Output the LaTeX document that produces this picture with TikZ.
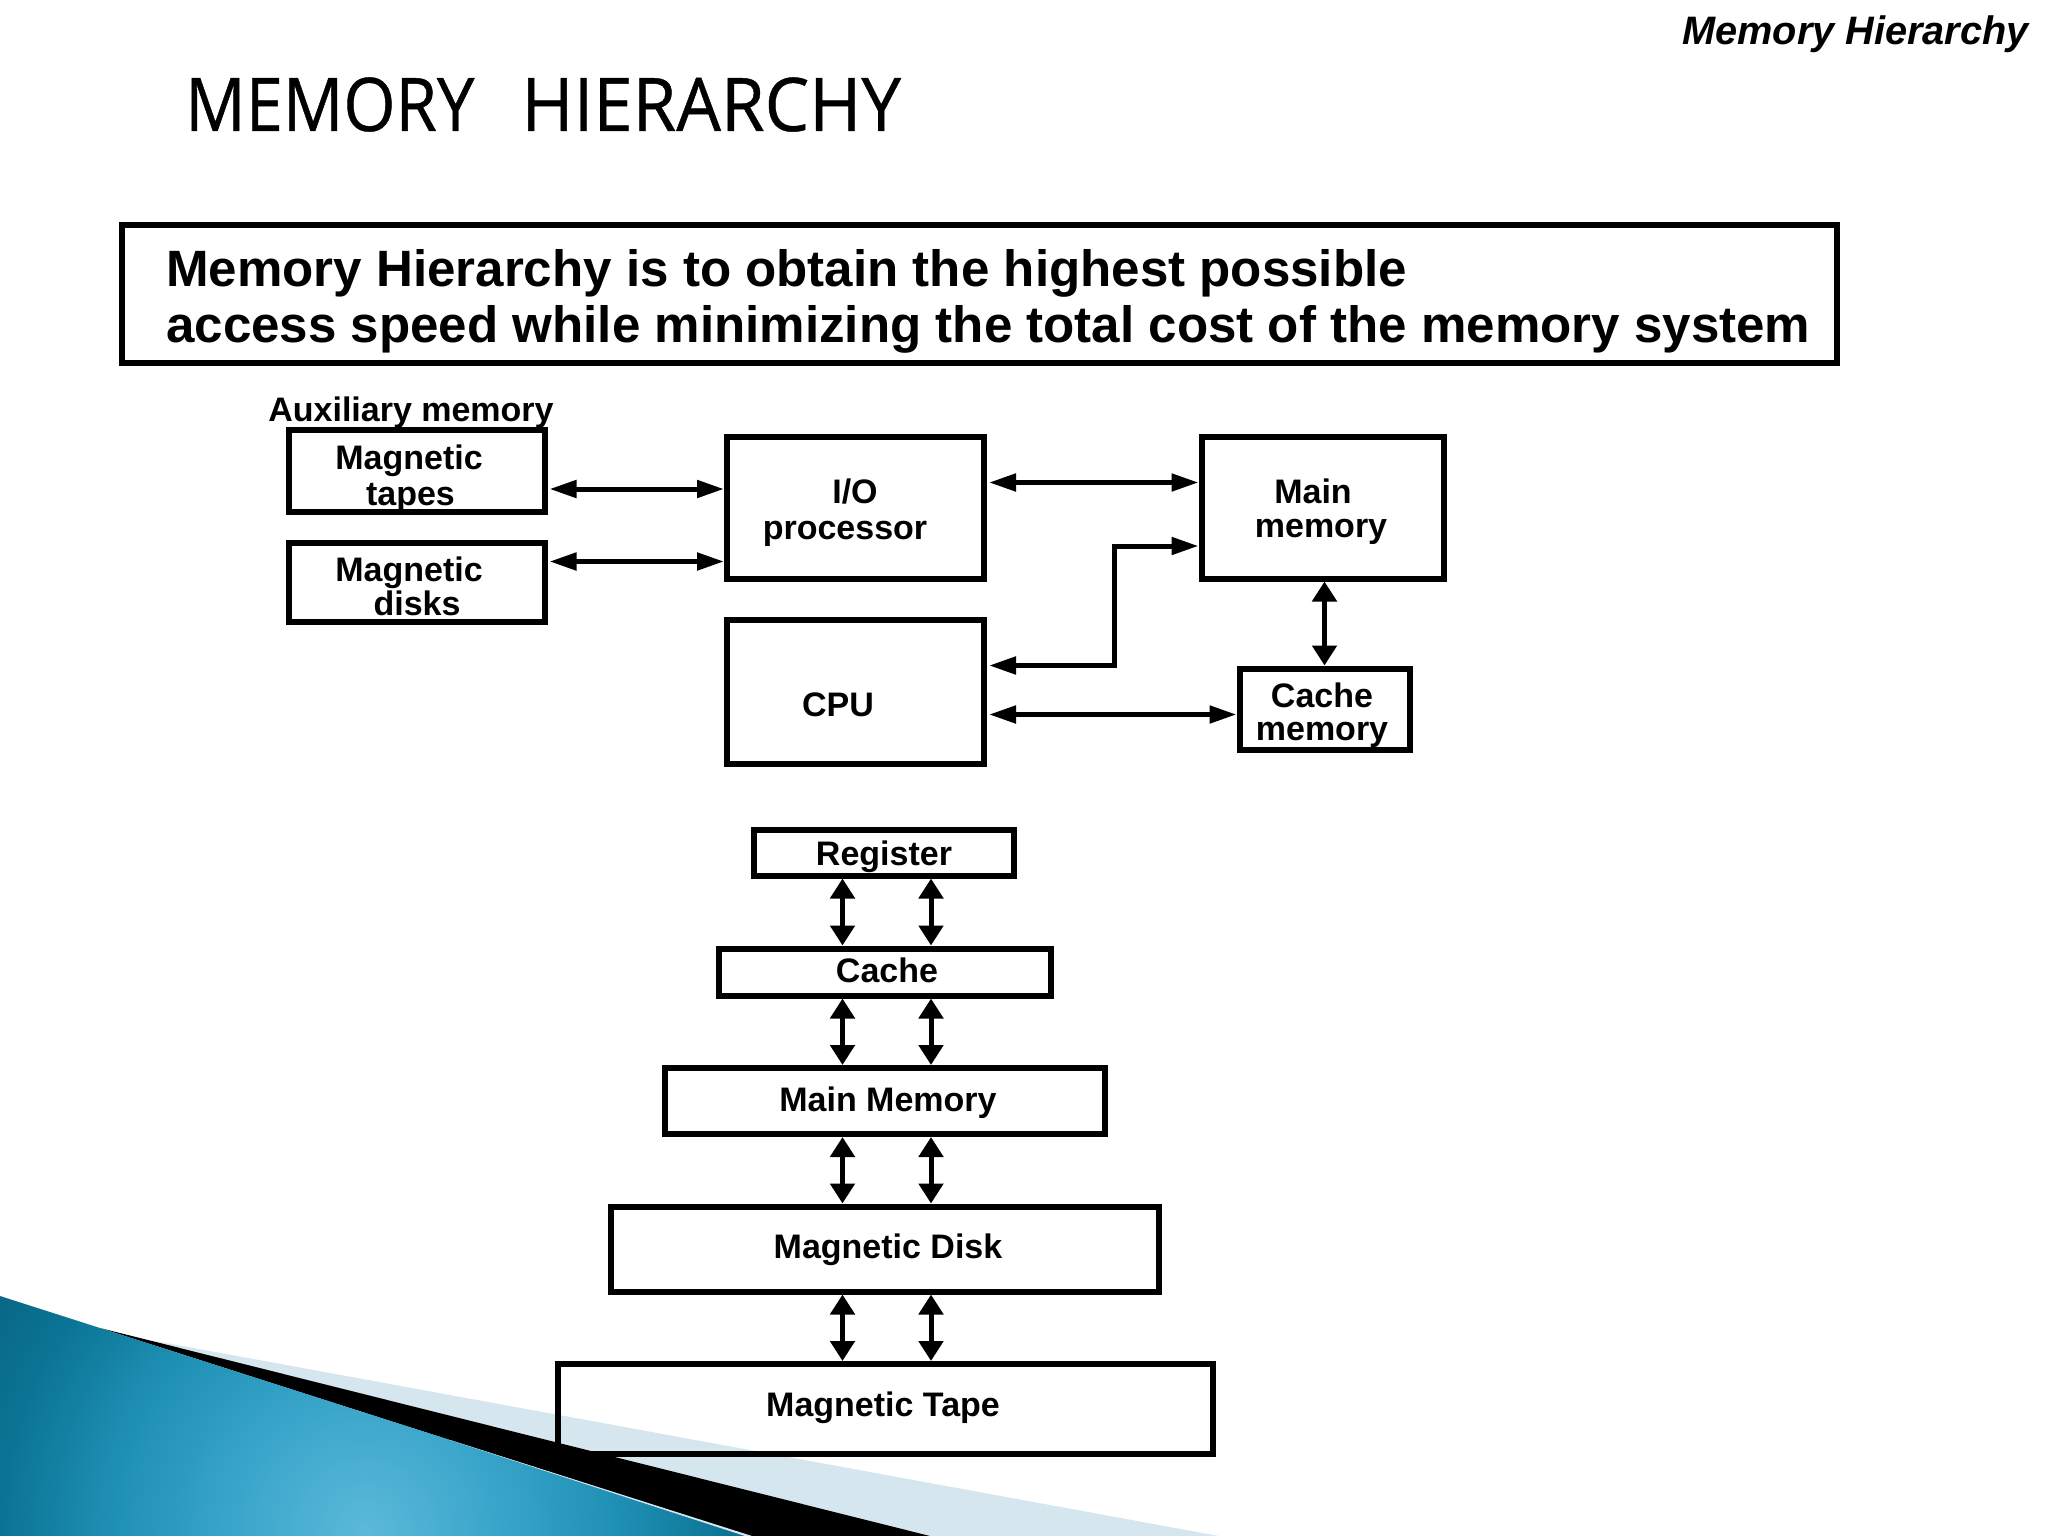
\documentclass[tikz,border=0pt]{standalone}
\usepackage{fontspec}
\setmainfont{Liberation Sans}
\newfontfamily\titleleft[FakeStretch=0.905,FakeBold=0.6]{Open Sans}
\newfontfamily\titleright[FakeStretch=0.955,FakeBold=0.6]{Open Sans}
\usetikzlibrary{arrows.meta,positioning,calc}
\definecolor{bandblue}{HTML}{D6E6EF}
\definecolor{tealdark}{HTML}{08607F}
\definecolor{tealedge}{HTML}{0B7595}
\definecolor{tealmid}{HTML}{1F90B5}
\definecolor{tealsoft}{HTML}{3BA6CB}
\definecolor{teallight}{HTML}{5BB9D9}
\pgfdeclareradialshading{cornerglow}{\pgfpointorigin}{color(0bp)=(teallight); color(7bp)=(tealsoft); color(14bp)=(tealmid); color(20bp)=(tealedge); color(26bp)=(tealdark); color(50bp)=(tealdark)}
\tikzset{
    membox/.style={draw, line width=6pt, outer sep=3pt, inner sep=0pt},
    lbl/.style={font=\bfseries\fontsize{34}{36}\selectfont, align=center, inner sep=0pt},
    biarrow/.style={line width=5pt, shorten <=2pt, {Triangle[length=27pt,width=17pt]}-{Triangle[length=27pt,width=17pt]}},
    vertarrow/.style={line width=5pt, {Triangle[length=20pt,width=24pt]}-{Triangle[length=20pt,width=24pt]}},
}
\begin{document}
\begin{tikzpicture}[x=1pt,y=-1pt]
    \useasboundingbox (0,0) rectangle (2048,1536);
    % slide corner
    \fill[bandblue] (150,1340) -- (1219,1536) -- (700,1536) -- cycle;
    \fill[black] (100,1328) -- (930,1536) -- (750,1536) -- cycle;
    \begin{scope}
        \clip (0,1296) -- (750,1536) -- (0,1536) -- cycle;
        \shade[shading=cornerglow] (365,1530) circle (450);
    \end{scope}
    \fill[bandblue] (450,1440) -- (752,1536) -- (745,1536) -- cycle;

    % heading
    \node[anchor=base west, inner sep=0pt, font=\fontsize{74}{74}\selectfont] (title) at (185,131) {\titleleft MEMORY\hspace{47pt}\titleright HIERARCHY};
    \node[anchor=base east, inner sep=0pt, font=\bfseries\itshape\fontsize{39.7}{40}\selectfont] (corner) at (2029,44.5) {Memory Hierarchy};

    \node[membox, minimum width=1715pt, minimum height=138pt] (goal) at (979.5,293.5) {};
    \node[anchor=base west, inner sep=0pt, align=left, font=\bfseries\fontsize{51.1}{56}\selectfont] (goaltxt) at (166,342) {Memory Hierarchy is to obtain the highest possible\\access speed while minimizing the total cost of the memory system};

    % upper block
    \node[lbl, anchor=base] (auxtxt) at (411,421) {Auxiliary memory};
    \node[membox, minimum width=256pt, minimum height=82pt] (tapes) at (416.5,471) {};
    \node[membox, minimum width=256pt, minimum height=79pt] (disks) at (416.5,582) {};
    \node[membox, minimum width=257pt, minimum height=142pt] (io) at (855.5,507.5) {};
    \node[membox, minimum width=257pt, minimum height=144pt] (cpu) at (855.5,691.5) {};
    \node[membox, minimum width=242pt, minimum height=142pt] (main) at (1322.5,507.5) {};
    \node[membox, minimum width=170pt, minimum height=81pt] (cachemem) at (1324.5,709) {};

    \node[lbl] (tapestxt) at (409,478.5) {Magnetic\\\hspace{3pt}tapes};
    \node[lbl] (diskstxt) at (409,586) {Magnetic\\[-2pt]\hspace{16pt}disks};
    \node[lbl] (iotxt) at (845,513) {\hspace{20pt}I/O\\processor};
    \node[lbl] (cputxt) at (838,705) {CPU};
    \node[lbl] (maintxt) at (1321,512) {Main\hspace{16pt}\mbox{}\\[-2pt]memory};
    \node[lbl] (cachememtxt) at (1322,715.5) {Cache\\[-3pt]memory};

    \draw[biarrow] ([yshift=-18pt]tapes.east) -- ([yshift=-18pt]tapes.east -| io.west);
    \draw[biarrow] ([yshift=20.5pt]disks.east) -- ([yshift=20.5pt]disks.east -| io.west);
    \draw[biarrow] ([yshift=25pt]io.east) -- ([yshift=25pt]io.east -| main.west);
    \coordinate (bend) at (1114,546);
    \draw[biarrow] ([yshift=26pt]cpu.east) -| (bend) -- (bend -| main.west);
    \draw[biarrow] ([yshift=-23pt]cpu.east) -- ([yshift=-23pt]cpu.east -| cachemem.west);
    \draw[vertarrow] (main.south -| cachemem.north) -- (cachemem.north);

    % lower stack
    \node[membox, minimum width=260pt, minimum height=46pt] (register) at (883.5,852.5) {};
    \node[membox, minimum width=332pt, minimum height=47pt] (cachelvl) at (884.5,972) {};
    \node[membox, minimum width=440pt, minimum height=66pt] (mainlvl) at (884.5,1101) {};
    \node[membox, minimum width=548pt, minimum height=85pt] (disklvl) at (885,1249) {};
    \node[membox, minimum width=655pt, minimum height=90pt] (tapelvl) at (885,1409) {};

    \node[lbl] (registertxt) at (884,856.5) {Register};
    \node[lbl] (cachelvltxt) at (887,970) {Cache};
    \node[lbl] (mainlvltxt) at (888,1102.5) {Main Memory};
    \node[lbl] (disklvltxt) at (888,1250) {Magnetic Disk};
    \node[lbl] (tapelvltxt) at (883,1408) {Magnetic Tape};

    \foreach \upper/\lower in {register/cachelvl, cachelvl/mainlvl, mainlvl/disklvl, disklvl/tapelvl} {
        \draw[vertarrow] (\upper.south -| 842.5,0) -- (\lower.north -| 842.5,0);
        \draw[vertarrow] (\upper.south -| 931,0) -- (\lower.north -| 931,0);
    }
\end{tikzpicture}
\end{document}
